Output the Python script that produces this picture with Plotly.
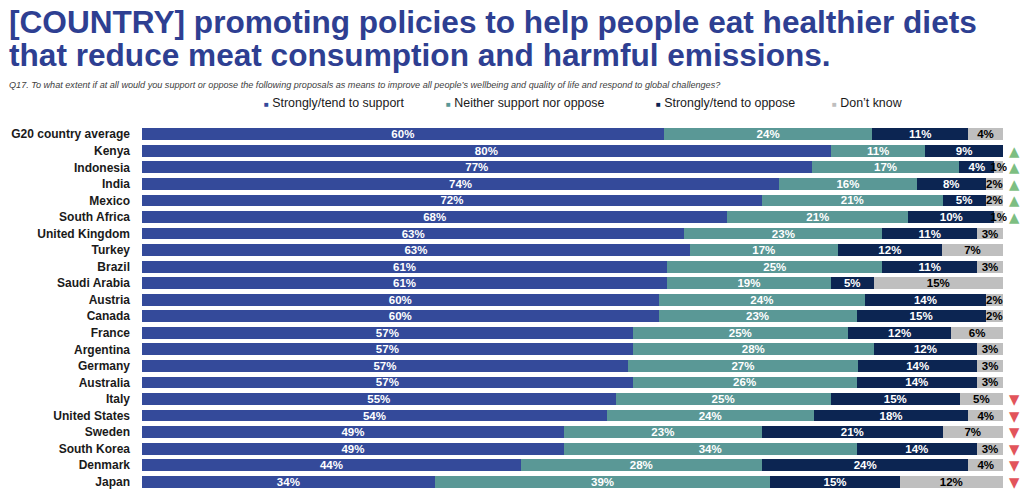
import plotly.graph_objects as go

countries = ["G20 country average", "Kenya", "Indonesia", "India", "Mexico", "South Africa",
             "United Kingdom", "Turkey", "Brazil", "Saudi Arabia", "Austria", "Canada", "France",
             "Argentina", "Germany", "Australia", "Italy", "United States", "Sweden",
             "South Korea", "Denmark", "Japan"]
support = [60, 80, 77, 74, 72, 68, 63, 63, 61, 61, 60, 60, 57, 57, 57, 57, 55, 54, 49, 49, 44, 34]
neither = [24, 11, 17, 16, 21, 21, 23, 17, 25, 19, 24, 23, 25, 28, 27, 26, 25, 24, 23, 34, 28, 39]
oppose = [11, 9, 4, 8, 5, 10, 11, 12, 11, 5, 14, 15, 12, 12, 14, 14, 15, 18, 21, 14, 24, 15]
dont_know = [4, 0, 1, 2, 2, 1, 3, 7, 3, 15, 2, 2, 6, 3, 3, 3, 5, 4, 7, 3, 4, 12]
trend = ["", "up", "up", "up", "up", "up", "", "", "", "", "", "", "", "", "", "", "down",
         "down", "down", "down", "down", "down"]

series_names = ["Strongly/tend to support", "Neither support nor oppose",
                "Strongly/tend to oppose", "Don\u2019t know"]
colors = ["#344A9A", "#5A9896", "#0C2552", "#BFBFBF"]
text_colors = ["white", "white", "white", "black"]
trend_symbols = {"up": ("\u25B2", "#7DBE82"), "down": ("\u25BC", "#E2545B")}

W, H = 1024, 496
L, R, T, B = 141.7, 21, 125.7, 6.4
FONT = "Liberation Sans, Arial"


def px_x(p):
    return (p - L) / (W - L - R)


def px_y(p):
    return (H - B - p) / (H - T - B)


fig = go.Figure()
for name, vals, c, tc in zip(series_names, [support, neither, oppose, dont_know], colors, text_colors):
    fig.add_trace(go.Bar(
        y=countries, x=vals, orientation="h", name=name,
        marker=dict(color=c, line=dict(width=0)),
        text=[f"{v}%" if v > 0 else "" for v in vals],
        textposition="inside", insidetextanchor="middle", constraintext="none", textangle=0,
        textfont=dict(family=FONT, size=11.5, color=tc, weight="bold"),
        cliponaxis=False, showlegend=False, hoverinfo="skip",
    ))

title_font = dict(family=FONT, size=31.6, color="#2E3F92", weight="bold")
annotations = [
    dict(text="[COUNTRY] promoting policies to help people eat healthier diets",
         x=px_x(7), y=px_y(22), xanchor="left", yanchor="middle", font=title_font),
    dict(text="that reduce meat consumption and harmful emissions.",
         x=px_x(7), y=px_y(55), xanchor="left", yanchor="middle", font=title_font),
    dict(text="<i>Q17. To what extent if at all would you support or oppose the following proposals as means to improve all people\u2019s wellbeing and quality of life and respond to global challenges?</i>",
         x=px_x(7), y=px_y(85), xanchor="left", yanchor="middle",
         font=dict(family=FONT, size=9.1, color="#404040")),
]
legend_x = [262, 444, 654, 830]
for lx, name, c in zip(legend_x, series_names, colors):
    annotations.append(dict(
        text=f"<span style='color:{c};font-size:8px'>\u25A0</span> {name}",
        x=px_x(lx), y=px_y(103), xanchor="left", yanchor="middle",
        font=dict(family=FONT, size=12.4, color="#1a1a1a")))
for a in annotations:
    a.update(xref="paper", yref="paper")

for country, t in zip(countries, trend):
    if t:
        sym, col = trend_symbols[t]
        annotations.append(dict(text=sym, x=px_x(1015), y=country, xref="paper", yref="y",
                                xanchor="center", yanchor="middle",
                                font=dict(family="DejaVu Sans", size=13.5, color=col)))
for a in annotations:
    a.update(showarrow=False)

fig.update_layout(
    barmode="stack", barnorm="percent", bargap=0.29,
    width=W, height=H,
    margin=dict(l=L, r=R, t=T, b=B, autoexpand=False),
    plot_bgcolor="white", paper_bgcolor="white",
    xaxis=dict(range=[0, 100.01], visible=False, fixedrange=True),
    yaxis=dict(range=[len(countries) - 0.5, -0.5], showgrid=False, zeroline=False, showline=False,
               ticks="", ticklabelstandoff=11, fixedrange=True,
               tickfont=dict(family=FONT, size=12, color="#1a1a1a", weight="bold")),
    annotations=annotations,
)

fig.write_html("out.html", config={"displayModeBar": False},
               post_script="document.body.style.margin='0px';")
